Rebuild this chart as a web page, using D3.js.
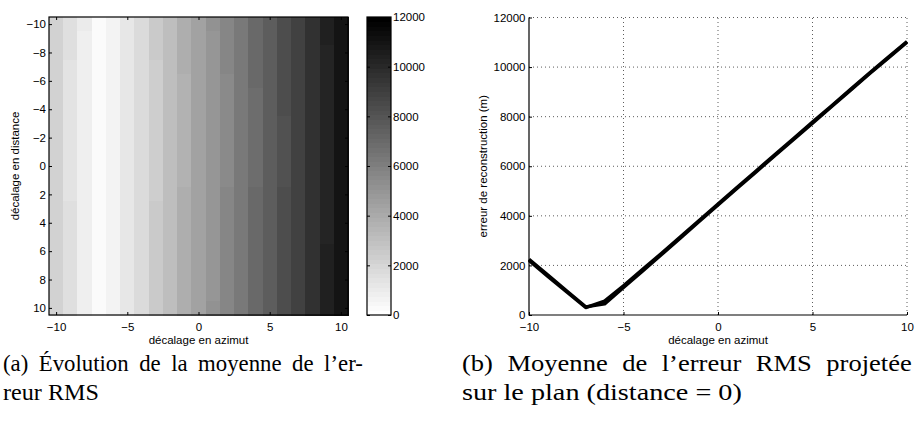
<!DOCTYPE html>
<html><head><meta charset="utf-8">
<script src="https://cdn.jsdelivr.net/npm/d3@7"></script>
<style>
body{margin:0;background:#fff}
svg{display:block}
.tk text{font-family:"Liberation Sans",Arial,sans-serif;font-size:11.5px;fill:#000}
.lab{font-family:"Liberation Sans",Arial,sans-serif;font-size:11.5px;fill:#000}
.cap{font-family:"Liberation Serif","Times New Roman",serif;font-size:23.5px;fill:#000}
</style>
</head><body>
<svg id="c" width="916" height="430"></svg>
<script>
// ---------- data ----------
const azimut   = [-10,-9,-8,-7,-6,-5,-4,-3,-2,-1,0,1,2,3,4,5,6,7,8,9,10];
const distance = [-10,-9,-8,-7,-6,-5,-4,-3,-2,-1,0,1,2,3,4,5,6,7,8,9,10];
// mean RMS error per azimut column (distance = 0 row), metres
const heatBase = [2120,1460,850,240,610,1180,1740,2400,3060,3720,4380,4990,5600,6260,6920,7580,8240,8890,9600,10260,10920];
// small per-row change of the mean error (metres)
const rowShift = [90,70,50,30,20,15,10,5,0,0,0,0,30,40,45,50,55,60,65,70,75];
// right panel: projected RMS error for distance = 0 (two overlapping traces)
const erreurA = [2250,1610,970,330,450,1110,1770,2430,3100,3770,4440,5100,5760,6420,7080,7740,8400,9060,9720,10360,11000];
const erreurB = [2200,1560,930,300,560,1180,1830,2480,3150,3810,4480,5140,5800,6460,7120,7780,8430,9090,9750,10390,11030];
const heatXTicks = [-10,-5,0,5,10];
const heatYTicks = [-10,-8,-6,-4,-2,0,2,4,6,8,10];
const cbarTicks  = [0,2000,4000,6000,8000,10000,12000];
const lineXTicks = [-10,-5,0,5,10];
const lineYTicks = [0,2000,4000,6000,8000,10000,12000];
const cMax = 12000, nLevels = 64;

// ---------- helpers ----------
const svg = d3.select("#c");
const fmt = d3.format("");
function grey(v){
  const lvl = Math.max(0, Math.min(nLevels-1, Math.floor(v/cMax*nLevels)));
  const g = Math.round(255*(nLevels-1-lvl)/(nLevels-1));
  return d3.rgb(g,g,g).toString();
}
function clean(g){ g.select(".domain").remove(); g.selectAll(".tick line").attr("stroke","#000"); }

// ---------- left heatmap ----------
const hx = d3.scaleLinear().domain([-10.5,10.5]).range([49,348]);
const hy = d3.scaleLinear().domain([-10.5,10.5]).range([17,315]);
const cells = [];
distance.forEach((d,i)=>azimut.forEach((a,j)=>cells.push({a,d,v:heatBase[j]+rowShift[i]})));
svg.append("g").selectAll("rect").data(cells).join("rect")
  .attr("x",c=>hx(c.a-0.5)).attr("y",c=>hy(c.d-0.5))
  .attr("width",c=>hx(c.a+0.5)-hx(c.a-0.5)+0.5).attr("height",c=>hy(c.d+0.5)-hy(c.d-0.5)+0.5)
  .attr("fill",c=>grey(c.v)).attr("shape-rendering","crispEdges");

svg.append("g").attr("class","tk").attr("transform","translate(0,315)")
  .call(d3.axisBottom(hx).tickValues(heatXTicks).tickFormat(fmt).tickSize(-3).tickPadding(8)).call(clean);
svg.append("g").attr("class","tk").attr("transform","translate(0,17)")
  .call(d3.axisTop(hx).tickValues(heatXTicks).tickFormat("").tickSize(-3)).call(clean);
svg.append("g").attr("class","tk").attr("transform","translate(49,0)")
  .call(d3.axisLeft(hy).tickValues(heatYTicks).tickFormat(fmt).tickSize(-3).tickPadding(3)).call(clean);
svg.append("g").attr("class","tk").attr("transform","translate(348,0)")
  .call(d3.axisRight(hy).tickValues(heatYTicks).tickFormat("").tickSize(-3)).call(clean);
svg.append("rect").attr("x",hx(-10.5)).attr("y",hy(-10.5)).attr("width",hx(10.5)-hx(-10.5)).attr("height",hy(10.5)-hy(-10.5))
  .attr("fill","none").attr("stroke","#000").attr("stroke-width",1.2);
svg.append("text").attr("class","lab").attr("x",(hx(-10.5)+hx(10.5))/2).attr("y",344).attr("text-anchor","middle").text("décalage en azimut");
svg.append("text").attr("class","lab").attr("transform",`translate(15,${(hy(-10.5)+hy(10.5))/2}) rotate(-90)`)
  .attr("dy","0.35em").attr("text-anchor","middle").text("décalage en distance");

// ---------- colorbar ----------
const cy = d3.scaleLinear().domain([0,cMax]).range([315,17]);
const levels = d3.range(nLevels).map(k=>({lo:k*cMax/nLevels, hi:(k+1)*cMax/nLevels}));
svg.append("g").selectAll("rect").data(levels).join("rect")
  .attr("x",367).attr("width",24).attr("y",l=>cy(l.hi)).attr("height",l=>cy(l.lo)-cy(l.hi)+0.5)
  .attr("fill",l=>grey((l.lo+l.hi)/2)).attr("shape-rendering","crispEdges");
svg.append("g").attr("class","tk").attr("transform","translate(391,0)")
  .call(d3.axisRight(cy).tickValues(cbarTicks).tickFormat(fmt).tickSize(-3).tickPadding(2)).call(clean);
svg.append("g").attr("class","tk").attr("transform","translate(367,0)")
  .call(d3.axisLeft(cy).tickValues(cbarTicks).tickFormat("").tickSize(-3)).call(clean);
svg.append("rect").attr("x",367).attr("y",17).attr("width",24).attr("height",298)
  .attr("fill","none").attr("stroke","#000").attr("stroke-width",1.2);

// ---------- right line chart ----------
const lx = d3.scaleLinear().domain([-10,10]).range([529,907]);
const ly = d3.scaleLinear().domain([0,cMax]).range([315,17.5]);
const grid = svg.append("g").attr("stroke","#333").attr("stroke-width",0.8).attr("stroke-dasharray","1,3");
grid.selectAll("line.v").data(lineXTicks.filter(t=>t>-10)).join("line")
  .attr("x1",d=>lx(d)).attr("x2",d=>lx(d)).attr("y1",ly(0)).attr("y2",ly(cMax));
grid.selectAll("line.h").data(lineYTicks.filter(t=>t>0)).join("line")
  .attr("y1",d=>ly(d)).attr("y2",d=>ly(d)).attr("x1",lx(-10)).attr("x2",lx(10));
const line = d3.line().x((d,i)=>lx(azimut[i])).y(d=>ly(d));
[erreurA, erreurB].forEach(s=>{
  svg.append("path").datum(s).attr("d",line).attr("fill","none").attr("stroke","#000")
    .attr("stroke-width",3.4).attr("stroke-linejoin","round");
});
svg.append("g").attr("class","tk").attr("transform",`translate(0,${ly(0)})`)
  .call(d3.axisBottom(lx).tickValues(lineXTicks).tickFormat(fmt).tickSize(-3).tickPadding(7.5)).call(clean);
svg.append("g").attr("class","tk").attr("transform",`translate(${lx(-10)},0)`)
  .call(d3.axisLeft(ly).tickValues(lineYTicks).tickFormat(fmt).tickSize(-3).tickPadding(3.5)).call(clean);
svg.append("path").attr("d",`M${lx(-10)},${ly(cMax)}V${ly(0)}H${lx(10)}`).attr("fill","none").attr("stroke","#000").attr("stroke-width",1.2);
svg.append("text").attr("class","lab").attr("x",(lx(-10)+lx(10))/2).attr("y",344).attr("text-anchor","middle").text("décalage en azimut");
svg.append("text").attr("class","lab").attr("transform",`translate(482.7,${(ly(0)+ly(cMax))/2}) rotate(-90)`)
  .attr("dy","0.35em").attr("text-anchor","middle").text("erreur de reconstruction (m)");

// ---------- captions ----------
const caps = [
  {x:3,   y:371, w:360, maxS:0.97, just:true,  t:"(a) Évolution de la moyenne de l’er-"},
  {x:3,   y:400, w:96,  maxS:9,    just:false, t:"reur RMS"},
  {x:462, y:371, w:450, maxS:1.13, just:true,  t:"(b) Moyenne de l’erreur RMS projetée"},
  {x:462, y:400, w:280, maxS:9,    just:false, t:"sur le plan (distance = 0)"}
];
caps.forEach(c=>{
  const t = svg.append("text").attr("class","cap").attr("x",0).attr("y",0).text(c.t);
  const w0 = t.node().getComputedTextLength();
  let s = Math.min(c.w / w0, c.maxS);
  if (c.just) {
    const n = (c.t.match(/ /g)||[]).length;
    t.attr("word-spacing", (c.w / s - w0) / n);
  }
  t.attr("transform",`translate(${c.x},${c.y}) scale(${s},1)`);
});
</script>
</body></html>
